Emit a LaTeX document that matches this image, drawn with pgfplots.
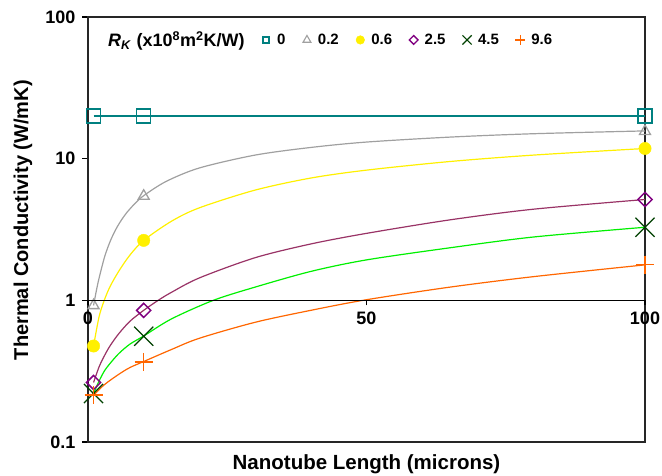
\documentclass[border=0pt]{standalone}
\usepackage{fontspec}
\setmainfont{Liberation Sans}
\usepackage{pgfplots}
\pgfplotsset{compat=1.18}
\definecolor{cteal}{RGB}{0,128,128}
\definecolor{cgray}{RGB}{160,160,160}
\definecolor{cyellow}{RGB}{255,240,0}
\definecolor{cpurpm}{RGB}{128,0,128}
\definecolor{cpurpl}{RGB}{153,51,102}
\definecolor{cgreenm}{RGB}{0,64,0}
\definecolor{cgreenl}{RGB}{0,240,0}
\definecolor{corange}{RGB}{255,102,0}
\begin{document}
\begin{tikzpicture}[x=1pt,y=1pt]
\useasboundingbox (0,0) rectangle (662,475);
\begin{axis}[at={(88pt,33pt)}, anchor=south west, scale only axis,
  width=557pt, height=425pt, ymode=log, xmin=0, xmax=100, ymin=0.1, ymax=100,
  clip=false, /pgf/number format/assume math mode=true,
  xtick=\empty,
  ytick={0.1,1,10,100}, yticklabels={0.1,1,10,100},
  yminorticks=false,
  tick align=outside, major tick length=5.5pt,
  ytick pos=left,
  axis line style={line width=1.2pt, black!85},
  every tick/.style={line width=1.2pt, black},
  yticklabel style={font=\fontsize{18}{20}\selectfont\bfseries, inner sep=2pt, xshift=-5pt},
  xlabel={Nanotube Length (microns)},
  ylabel={Thermal Conductivity (W/mK)},
  xlabel style={font=\fontsize{20.5}{22}\selectfont\bfseries, at={(axis description cs:0.5,0)}, anchor=south, inner sep=0pt, yshift=-32pt},
  ylabel style={font=\fontsize{20}{22}\selectfont\bfseries, at={(axis description cs:-0.1167,0.522)}, anchor=center},
  legend image code/.code={\path[draw=none,fill=none] (-6pt,-4pt) rectangle (6pt,4pt); \draw[#1] plot coordinates {(0pt,0pt)};},
  legend style={draw=none, fill=none, at={(axis description cs:0.027,0.946)}, anchor=west,
    inner sep=0pt, font=\fontsize{15}{17}\selectfont\bfseries,
    nodes={inner xsep=5pt},
    /tikz/every even column/.append style={column sep=10.5pt}},
  legend columns=7,
]
% curves
\addplot[cteal, line width=1.2pt, forget plot] coordinates {(1,20)(100,20)};
\addplot[cgray, line width=1.2pt, smooth, forget plot] coordinates {
(1,0.92)(1.5,1.17)(2,1.44)(3,2.04)(4,2.62)(5,3.17)(6,3.69)(7,4.18)(8.5,4.86)(10,5.48)(14,6.9)(20,8.6)(30,10.6)(40,12.0)(50,13.1)(65,14.2)(80,15.0)(100,15.7)};
\addplot[cyellow, line width=1.2pt, smooth, forget plot] coordinates {
(1,0.476)(2,0.77)(3,1.02)(4,1.26)(5.5,1.6)(7.5,2.08)(10,2.65)(15,3.62)(20,4.5)(30,6.0)(40,7.3)(50,8.3)(65,9.55)(80,10.6)(100,11.8)};
\addplot[cpurpl, line width=1.2pt, smooth, forget plot] coordinates {
(1,0.263)(2,0.34)(3,0.41)(4,0.48)(5.5,0.58)(7.5,0.71)(10,0.85)(12.6,1.0)(15,1.14)(20,1.44)(30,2.0)(40,2.5)(50,2.97)(65,3.7)(80,4.4)(100,5.15)};
\addplot[cgreenl, line width=1.2pt, smooth, forget plot] coordinates {
(1,0.22)(2,0.27)(3,0.32)(4,0.36)(5.5,0.42)(7.5,0.49)(10,0.56)(15,0.74)(22.5,1.0)(30,1.24)(40,1.6)(50,1.93)(65,2.35)(80,2.8)(100,3.28)};
\addplot[corange, line width=1.2pt, smooth, forget plot] coordinates {
(1,0.214)(3,0.255)(5.5,0.30)(7.5,0.335)(10,0.37)(15,0.45)(20,0.54)(30,0.70)(40,0.85)(50,1.01)(65,1.24)(80,1.47)(100,1.78)};
% markers
\addplot[only marks, mark=square, mark size=7pt, cteal, line width=1.6pt, forget plot] coordinates {(1,20)(10,20)(100,20)};
\addplot[only marks, mark=triangle, mark size=6.3pt, cgray, line width=1.3pt, forget plot] coordinates {(1,0.92)(10,5.45)(100,15.6)};
\addplot[only marks, mark=*, mark size=6.2pt, cyellow, forget plot] coordinates {(1,0.476)(10,2.65)(100,11.8)};
\addplot[only marks, mark=square, mark size=5pt, mark options={rotate=45}, cpurpm, line width=1.5pt, forget plot] coordinates {(1,0.263)(10,0.85)(100,5.15)};
\addplot[only marks, mark=x, mark size=13.5pt, cgreenm, line width=1.3pt, forget plot] coordinates {(1,0.22)(10,0.558)(100,3.28)};
\addplot[only marks, mark=+, mark size=9pt, corange, line width=1.6pt, forget plot] coordinates {(1,0.214)(10,0.368)(100,1.79)};
% legend
\addlegendimage{empty legend}
\addlegendentry{\fontsize{18}{19}\selectfont\textit{R}\textsubscript{\textit{K}} (x10\textsuperscript{8}m\textsuperscript{2}K/W)}
\addlegendimage{only marks, mark=square, mark size=3pt, cteal, line width=1.3pt}
\addlegendentry{0}
\addlegendimage{only marks, mark=triangle, mark size=4.5pt, cgray, line width=1.1pt}
\addlegendentry{0.2}
\addlegendimage{only marks, mark=*, mark size=4.3pt, cyellow}
\addlegendentry{0.6}
\addlegendimage{only marks, mark=square, mark size=3.1pt, mark options={rotate=45}, cpurpm, line width=1.3pt}
\addlegendentry{2.5}
\addlegendimage{only marks, mark=x, mark size=6.5pt, cgreenm, line width=1.1pt}
\addlegendentry{4.5}
\addlegendimage{only marks, mark=+, mark size=5pt, corange, line width=1.3pt}
\addlegendentry{9.6}
\end{axis}
\begin{axis}[at={(88pt,33pt)}, anchor=south west, scale only axis,
  width=557pt, height=425pt, ymode=log, xmin=0, xmax=100, ymin=0.1, ymax=100,
  clip=false, /pgf/number format/assume math mode=true,
  axis x line=middle, axis y line=none,
  xtick={0,50,100}, xticklabels={0,50,100}, ytick=\empty,
  x axis line style={-, line width=1.2pt, black},
  tick align=outside, major tick length=5pt,
  every tick/.style={line width=1.2pt, black},
  xticklabel style={font=\fontsize{18}{20}\selectfont\bfseries, inner sep=2pt, yshift=-4pt},
]
\addplot[draw=none, forget plot] coordinates {(50,1)};
\end{axis}
\end{tikzpicture}
\end{document}
